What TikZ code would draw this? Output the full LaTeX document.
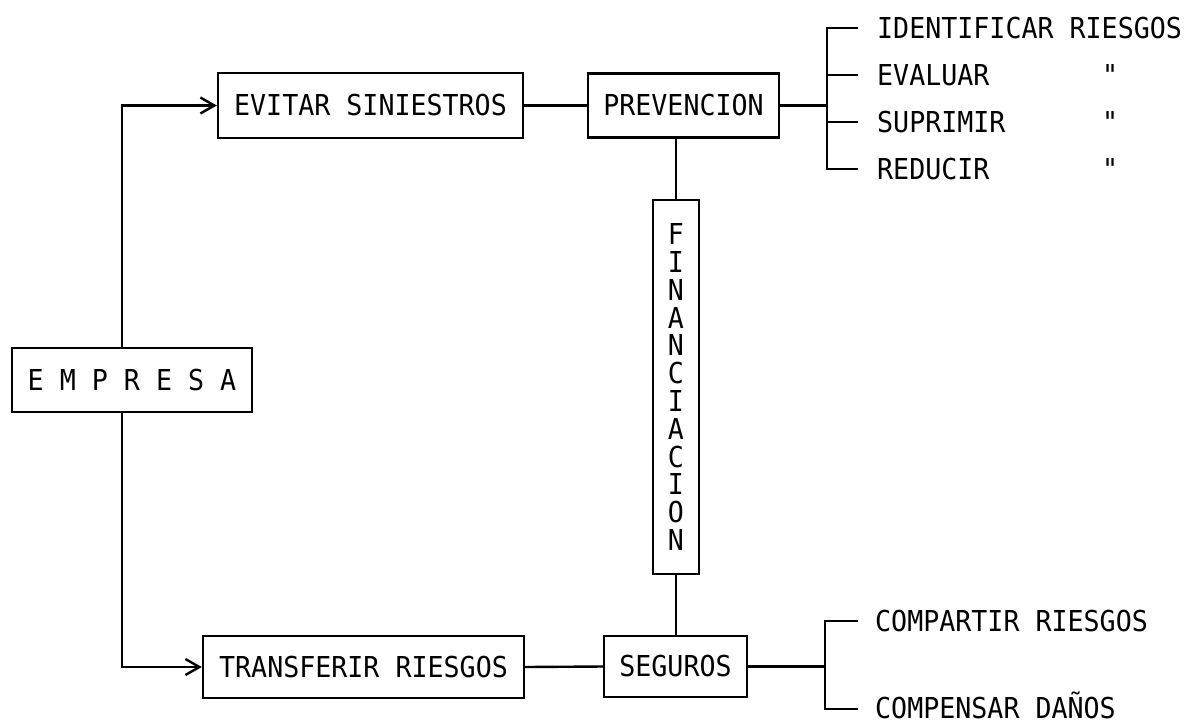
\documentclass[tikz,border=0pt]{standalone}
\usepackage{fontspec}
\newfontfamily\diamono[FakeStretch=0.925]{DejaVu Sans Mono}
\newcommand\diafont{\diamono\fontsize{28.8pt}{30.5pt}\selectfont}
\newcommand\diafontv{\diamono\fontsize{28.8pt}{27.8pt}\selectfont}
\usetikzlibrary{arrows.meta}
\begin{document}
\begin{tikzpicture}[x=1pt,y=-1pt,line width=2.4pt,
  box/.style={draw, inner sep=0pt, font=\diafont},
  lbl/.style={inner sep=0pt, anchor=base west, font=\diafont},
  arr/.style={-{Straight Barb[length=14pt,width=16pt]}}]
\useasboundingbox (0,0) rectangle (1191,724);

% boxes
\node[box, minimum width=240pt, minimum height=64pt] (emp) at (132,380) {E M P R E S A};
\node[box, minimum width=305pt, minimum height=65pt] (evi) at (370.5,105.5) {EVITAR SINIESTROS};
\node[box, minimum width=191pt, minimum height=64pt] (prev) at (683.5,105.5) {PREVENCION};
\node[box, font=\diafontv, minimum width=46pt, minimum height=374pt, align=center] (fin) at (676,387)
  {F\\I\\N\\A\\N\\C\\I\\A\\C\\I\\O\\N};
\node[box, minimum width=143pt, minimum height=61pt] (seg) at (675.5,666.5) {SEGUROS};
\node[box, minimum width=321pt, minimum height=62pt] (tra) at (363.5,667) {TRANSFERIR RIESGOS};

% labels
\node[lbl] (l1) at (876,38.5) {IDENTIFICAR RIESGOS};
\node[lbl] (l2) at (876,85.5) {EVALUAR};
\node[lbl] (l3) at (876,132.5) {SUPRIMIR};
\node[lbl] (l4) at (876,179.5) {REDUCIR};
\node[lbl] (d2) at (1101,85.5) {"};
\node[lbl] (d3) at (1101,132.5) {"};
\node[lbl] (d4) at (1101,179.5) {"};
\node[lbl] (l5) at (874,631.5) {COMPARTIR RIESGOS};
\node[lbl] (l6) at (874,718.5) {COMPENSAR DAÑOS};

% coordinates
\coordinate (c1) at (122,380);
\coordinate (b1) at (827,105.5);
\coordinate (k1) at (858,28);
\coordinate (k2) at (858,75);
\coordinate (k3) at (858,122);
\coordinate (k4) at (858,169);
\coordinate (b2) at (825,666.5);
\coordinate (k5) at (858,621);
\coordinate (k6) at (858,709);

% connectors
\draw[arr] (emp.north -| c1) |- (evi.west);
\draw[arr] (emp.south -| c1) |- (tra.west);
\draw (evi.east) -- (prev.west);
\draw (prev.east) -- (b1);
\draw (k1) -| (b1) |- (k4);
\draw (b1 |- k2) -- (k2);
\draw (b1 |- k3) -- (k3);
\draw (fin.north) -- (fin.north |- prev.south);
\draw (fin.south) -- (fin.south |- seg.north);
\draw (tra.east) -- (seg.west);
\draw (seg.east) -- (b2);
\draw (k5) -| (b2) |- (k6);
\end{tikzpicture}
\end{document}
